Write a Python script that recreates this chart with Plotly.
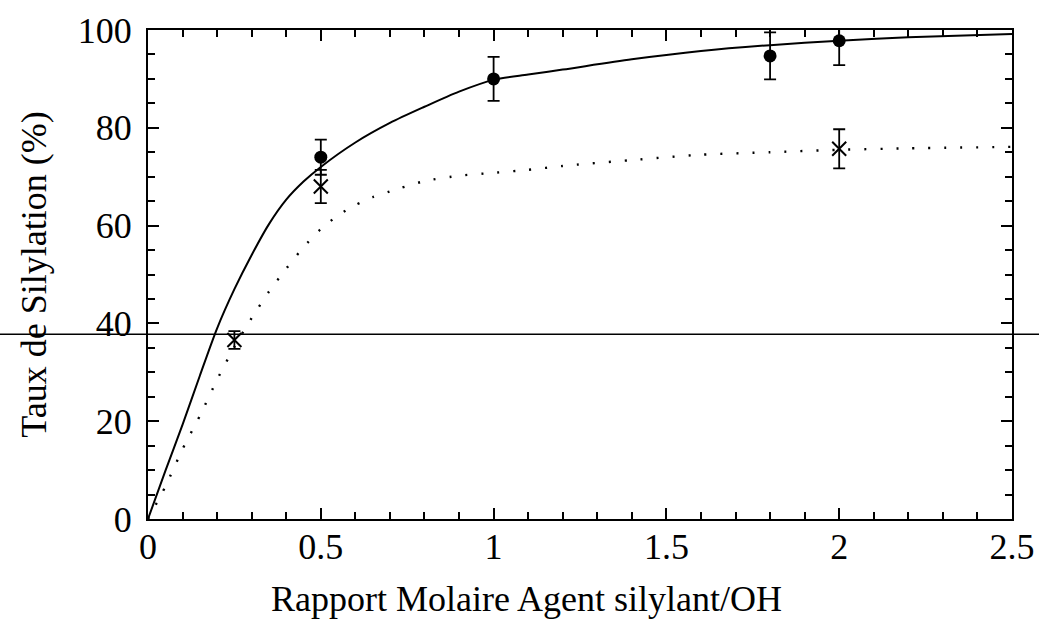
import plotly.graph_objects as go

# Measured silylation rates (filled circles) with uncertainties
x_circ = [0.5, 1.0, 1.8, 2.0]
y_circ = [74.0, 90.0, 94.7, 97.8]
err_circ = [3.6, 4.5, 4.8, 5.0]

# Measured silylation rates (crosses) with uncertainties
x_cross = [0.25, 0.5, 2.0]
y_cross = [36.6, 68.0, 75.7]
err_cross = [1.8, 3.4, 4.0]

# Fitted trend (solid line)
x_fit_solid = [0, 0.05, 0.1, 0.15, 0.2, 0.25, 0.3, 0.35, 0.4, 0.45, 0.5, 0.6, 0.7,
               0.8, 0.9, 1.0, 1.1, 1.2, 1.4, 1.6, 1.8, 2.0, 2.2, 2.5]
y_fit_solid = [0, 9.8, 19.3, 29.3, 39.0, 47.0, 54.0, 60.3, 65.3, 69.0, 72.0, 77.0, 81.0,
               84.3, 87.4, 89.8, 90.9, 91.9, 94.0, 95.7, 96.9, 97.8, 98.5, 99.2]

# Fitted trend (dotted line)
x_fit_dot = [0, 0.05, 0.1, 0.15, 0.2, 0.25, 0.3, 0.35, 0.4, 0.45, 0.5, 0.55, 0.6,
             0.65, 0.7, 0.8, 0.9, 1.0, 1.1, 1.2, 1.4, 1.6, 1.8, 2.0, 2.2, 2.5]
y_fit_dot = [0, 6.6, 14.3, 21.1, 28.5, 35.2, 41.1, 46.5, 51.2, 55.6, 59.3, 62.1, 64.2,
             65.8, 67.0, 69.1, 70.2, 70.8, 71.4, 72.2, 73.4, 74.5, 75.0, 75.5, 75.8, 76.1]

# Horizontal reference line level
ref_level = 37.8

x_ticks = [0, 0.5, 1, 1.5, 2, 2.5]
x_ticklabels = ["0", "0.5", "1", "1.5", "2", "2.5"]
y_ticks = [0, 20, 40, 60, 80, 100]

FONT = "Liberation Serif, Times New Roman, serif"

fig = go.Figure()

fig.add_trace(go.Scatter(
    x=x_fit_solid, y=y_fit_solid, mode="lines",
    line=dict(color="black", width=2, shape="spline", smoothing=0.8),
    showlegend=False, hoverinfo="skip"))

fig.add_trace(go.Scatter(
    x=x_fit_dot, y=y_fit_dot, mode="lines",
    line=dict(color="black", width=2.4, shape="spline", smoothing=0.6, dash="2px,14px"),
    showlegend=False, hoverinfo="skip"))

fig.add_trace(go.Scatter(
    x=x_circ, y=y_circ, mode="markers",
    marker=dict(symbol="circle", size=13, color="black"),
    error_y=dict(type="data", array=err_circ, visible=True,
                 color="black", thickness=1.8, width=6),
    showlegend=False))

fig.add_trace(go.Scatter(
    x=x_cross, y=y_cross, mode="markers",
    marker=dict(symbol="x-thin-open", size=14, color="black",
                line=dict(color="black", width=2)),
    error_y=dict(type="data", array=err_cross, visible=True,
                 color="black", thickness=1.8, width=6),
    showlegend=False))

# Long horizontal rule across the whole figure
fig.add_shape(type="line", xref="paper", yref="y",
              x0=-0.2, x1=1.1, y0=ref_level, y1=ref_level,
              line=dict(color="black", width=1.5), layer="above")

# x-axis title, placed slightly left of the plot centre
fig.add_annotation(text="Rapport Molaire Agent silylant/OH",
                   xref="paper", yref="paper", x=0.4375, y=-0.163,
                   xanchor="center", yanchor="middle", showarrow=False,
                   font=dict(family=FONT, size=36, color="black"))

axis_common = dict(
    showgrid=False, zeroline=False, showline=True, linecolor="black", linewidth=2,
    mirror="ticks", ticks="inside", tickcolor="black", tickwidth=1.6,
    tickfont=dict(family=FONT, size=36, color="black"), automargin=False,
)

fig.update_xaxes(
    range=[0, 2.5], tickvals=x_ticks, ticktext=x_ticklabels, ticklen=11,
    minor=dict(ticks="inside", dtick=0.1, ticklen=7, tickcolor="black", tickwidth=1.6, showgrid=False),
    ticklabelstandoff=-5,
    **axis_common)

fig.update_yaxes(
    range=[0, 100], tickvals=y_ticks, ticklen=11,
    minor=dict(ticks="inside", dtick=5, ticklen=7, tickcolor="black", tickwidth=1.6, showgrid=False),
    title=dict(text="Taux de Silylation (%)",
               font=dict(family=FONT, size=36, color="black"), standoff=20),
    ticklabelstandoff=7,
    **axis_common)

fig.update_layout(
    width=1039, height=622,
    margin=dict(l=148, r=27, t=30, b=103),
    paper_bgcolor="white", plot_bgcolor="white",
)

fig.write_html("out.html")
